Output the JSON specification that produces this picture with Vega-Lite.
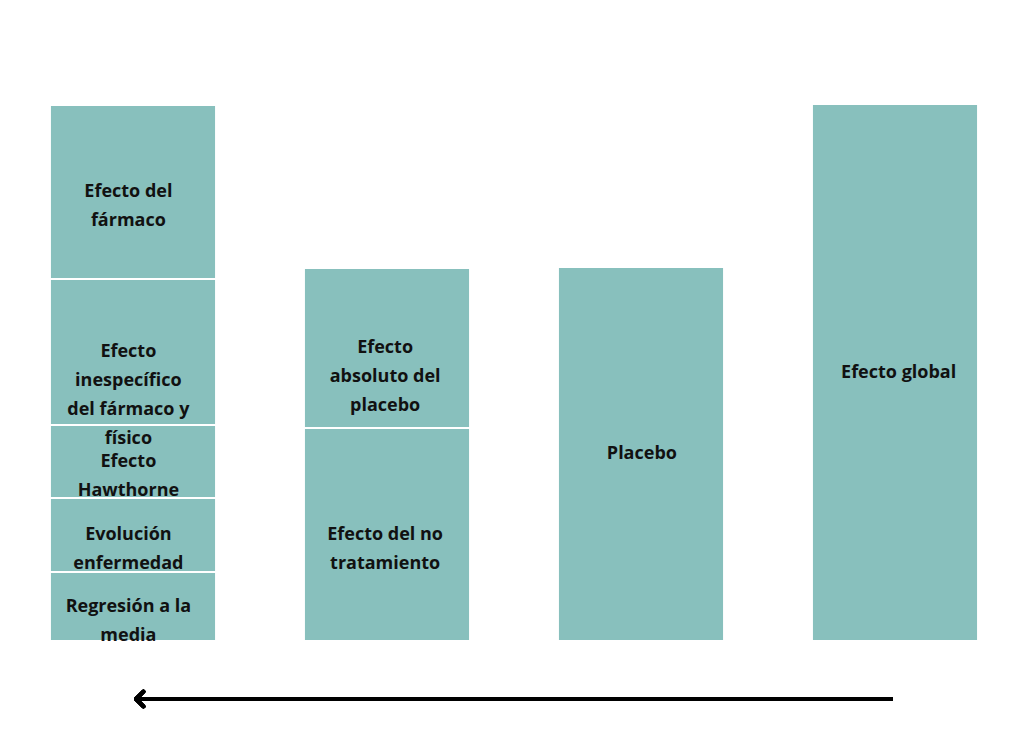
{
"$schema":"https://vega.github.io/schema/vega-lite/v6.json",
"width":1027,"height":747,"autosize":{"type":"fit","contains":"padding"},"padding":0,
"config":{"view":{"stroke":null}},
"data":{"values":[
{"bar":"A","order":1,"value":69,"label":"Regresión a la\nmedia"},
{"bar":"A","order":2,"value":74,"label":"Evolución\nenfermedad"},
{"bar":"A","order":3,"value":73,"label":"Efecto\nHawthorne"},
{"bar":"A","order":4,"value":146,"label":"Efecto\ninespecífico\ndel fármaco y\nfísico"},
{"bar":"A","order":5,"value":174,"label":"Efecto del\nfármaco"},
{"bar":"B","order":1,"value":213,"label":"Efecto del no\ntratamiento"},
{"bar":"B","order":2,"value":160,"label":"Efecto\nabsoluto del\nplacebo"},
{"bar":"C","order":1,"value":374,"label":"Placebo"},
{"bar":"D","order":1,"value":537,"label":"Efecto global"}
]},
"transform":[
{"stack":"value","groupby":["bar"],"sort":[{"field":"order"}],"as":["y0","y1"]},
{"calculate":"(datum.y0+datum.y1)/2","as":"mid"}
],
"layer":[
{"mark":{"type":"bar","color":"#88c0bd","stroke":"white","strokeWidth":2},
"encoding":{
"x":{"field":"bar","type":"nominal","axis":null,"scale":{"range":[6,1022],"paddingInner":0.346,"paddingOuter":0.173}},
"y":{"field":"y0","type":"quantitative","axis":null,"scale":{"domain":[-106,641],"nice":false,"zero":false}},
"y2":{"field":"y1"}}},
{"mark":{"type":"text","font":"Open Sans","fontWeight":"bold","fontSize":18,"lineBreak":"\n","lineHeight":29,"baseline":"middle","color":"#111"},
"encoding":{
"x":{"field":"bar","type":"nominal","axis":null},
"y":{"field":"mid","type":"quantitative","axis":null},
"text":{"field":"label"}}},
{"mark":{"type":"rule","strokeWidth":4,"color":"black"},
"encoding":{
"x":{"datum":137,"type":"quantitative","scale":{"domain":[0,1027],"range":[0,1027],"nice":false},"axis":null},
"x2":{"datum":893},
"y":{"datum":-58,"type":"quantitative"}}},
{"mark":{"type":"point","shape":"M1,-1L0,0L1,1","size":220,"strokeWidth":4,"color":"black","filled":false,"strokeCap":"round","strokeJoin":"round"},
"encoding":{
"x":{"datum":136,"type":"quantitative","scale":{"domain":[0,1027],"range":[0,1027],"nice":false},"axis":null},
"y":{"datum":-58,"type":"quantitative"}}}
],
"resolve":{"scale":{"x":"independent"}}
}
